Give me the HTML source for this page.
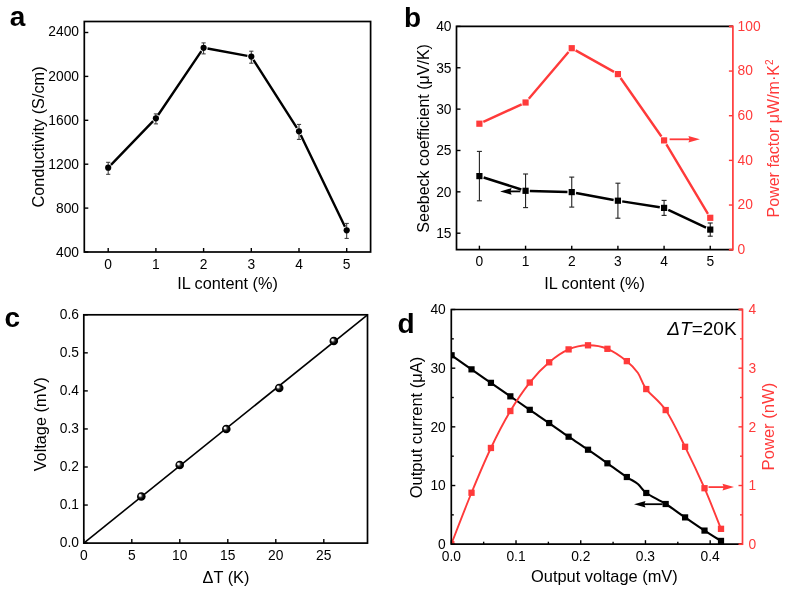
<!DOCTYPE html>
<html><head><meta charset="utf-8"><style>
html,body{margin:0;padding:0;background:#fff;overflow:hidden;width:787px;height:591px;}
svg{display:block;font-family:'Liberation Sans', sans-serif;will-change:transform;}
</style></head><body>
<svg width="787" height="591" viewBox="0 0 787 591">
<rect width="787" height="591" fill="#fff"/>
<line x1="108.20" y1="252.00" x2="108.20" y2="248.00" stroke="#000" stroke-width="1.4" />
<text x="108.20" y="268.80" font-size="13.8" text-anchor="middle" fill="#000" >0</text>
<line x1="155.90" y1="252.00" x2="155.90" y2="248.00" stroke="#000" stroke-width="1.4" />
<text x="155.90" y="268.80" font-size="13.8" text-anchor="middle" fill="#000" >1</text>
<line x1="203.60" y1="252.00" x2="203.60" y2="248.00" stroke="#000" stroke-width="1.4" />
<text x="203.60" y="268.80" font-size="13.8" text-anchor="middle" fill="#000" >2</text>
<line x1="251.30" y1="252.00" x2="251.30" y2="248.00" stroke="#000" stroke-width="1.4" />
<text x="251.30" y="268.80" font-size="13.8" text-anchor="middle" fill="#000" >3</text>
<line x1="299.00" y1="252.00" x2="299.00" y2="248.00" stroke="#000" stroke-width="1.4" />
<text x="299.00" y="268.80" font-size="13.8" text-anchor="middle" fill="#000" >4</text>
<line x1="346.70" y1="252.00" x2="346.70" y2="248.00" stroke="#000" stroke-width="1.4" />
<text x="346.70" y="268.80" font-size="13.8" text-anchor="middle" fill="#000" >5</text>
<line x1="84.30" y1="252.00" x2="88.30" y2="252.00" stroke="#000" stroke-width="1.4" />
<text x="79.00" y="256.70" font-size="13.8" text-anchor="end" fill="#000" >400</text>
<line x1="84.30" y1="208.10" x2="88.30" y2="208.10" stroke="#000" stroke-width="1.4" />
<text x="79.00" y="212.90" font-size="13.8" text-anchor="end" fill="#000" >800</text>
<line x1="84.30" y1="164.20" x2="88.30" y2="164.20" stroke="#000" stroke-width="1.4" />
<text x="79.00" y="169.20" font-size="13.8" text-anchor="end" fill="#000" >1200</text>
<line x1="84.30" y1="120.30" x2="88.30" y2="120.30" stroke="#000" stroke-width="1.4" />
<text x="79.00" y="125.00" font-size="13.8" text-anchor="end" fill="#000" >1600</text>
<line x1="84.30" y1="76.40" x2="88.30" y2="76.40" stroke="#000" stroke-width="1.4" />
<text x="79.00" y="81.20" font-size="13.8" text-anchor="end" fill="#000" >2000</text>
<line x1="84.30" y1="32.50" x2="88.30" y2="32.50" stroke="#000" stroke-width="1.4" />
<text x="79.00" y="36.10" font-size="13.8" text-anchor="end" fill="#000" >2400</text>
<path d="M110.98,164.82 L153.12,121.18 M158.14,114.99 L201.36,51.11 M207.53,48.53 L247.37,55.87 M253.45,59.97 L296.85,127.93 M300.74,134.90 L344.96,226.70" fill="none" stroke="#000" stroke-width="2.4" stroke-linecap="butt"/>
<line x1="108.20" y1="162.30" x2="108.20" y2="174.30" stroke="#333" stroke-width="1" />
<line x1="106.10" y1="162.30" x2="110.30" y2="162.30" stroke="#333" stroke-width="1" />
<line x1="106.10" y1="174.30" x2="110.30" y2="174.30" stroke="#333" stroke-width="1" />
<circle cx="108.20" cy="167.70" r="3.1" fill="#000"/>
<line x1="155.90" y1="113.90" x2="155.90" y2="123.90" stroke="#333" stroke-width="1" />
<line x1="153.80" y1="113.90" x2="158.00" y2="113.90" stroke="#333" stroke-width="1" />
<line x1="153.80" y1="123.90" x2="158.00" y2="123.90" stroke="#333" stroke-width="1" />
<circle cx="155.90" cy="118.30" r="3.1" fill="#000"/>
<line x1="203.60" y1="42.90" x2="203.60" y2="53.90" stroke="#333" stroke-width="1" />
<line x1="201.50" y1="42.90" x2="205.70" y2="42.90" stroke="#333" stroke-width="1" />
<line x1="201.50" y1="53.90" x2="205.70" y2="53.90" stroke="#333" stroke-width="1" />
<circle cx="203.60" cy="47.80" r="3.1" fill="#000"/>
<line x1="251.30" y1="51.20" x2="251.30" y2="63.20" stroke="#333" stroke-width="1" />
<line x1="249.20" y1="51.20" x2="253.40" y2="51.20" stroke="#333" stroke-width="1" />
<line x1="249.20" y1="63.20" x2="253.40" y2="63.20" stroke="#333" stroke-width="1" />
<circle cx="251.30" cy="56.60" r="3.1" fill="#000"/>
<line x1="299.00" y1="124.40" x2="299.00" y2="139.40" stroke="#333" stroke-width="1" />
<line x1="296.90" y1="124.40" x2="301.10" y2="124.40" stroke="#333" stroke-width="1" />
<line x1="296.90" y1="139.40" x2="301.10" y2="139.40" stroke="#333" stroke-width="1" />
<circle cx="299.00" cy="131.30" r="3.1" fill="#000"/>
<line x1="346.70" y1="223.40" x2="346.70" y2="238.40" stroke="#333" stroke-width="1" />
<line x1="344.60" y1="223.40" x2="348.80" y2="223.40" stroke="#333" stroke-width="1" />
<line x1="344.60" y1="238.40" x2="348.80" y2="238.40" stroke="#333" stroke-width="1" />
<circle cx="346.70" cy="230.30" r="3.1" fill="#000"/>
<rect x="84.3" y="21.5" width="286.30" height="230.50" fill="none" stroke="#000" stroke-width="1.7"/>
<text x="227.50" y="288.90" font-size="16.3" text-anchor="middle" fill="#000" >IL content (%)</text>
<text x="0" y="0" font-size="16.3" text-anchor="middle" fill="#000" transform="translate(44.20,137.00) rotate(-90)">Conductivity (S/cm)</text>
<text x="9.80" y="26.00" font-size="28" text-anchor="start" fill="#000" font-weight="bold">a</text>
<line x1="479.40" y1="249.70" x2="479.40" y2="245.70" stroke="#000" stroke-width="1.4" />
<text x="479.40" y="266.00" font-size="13.8" text-anchor="middle" fill="#000" >0</text>
<line x1="525.57" y1="249.70" x2="525.57" y2="245.70" stroke="#000" stroke-width="1.4" />
<text x="525.57" y="266.00" font-size="13.8" text-anchor="middle" fill="#000" >1</text>
<line x1="571.74" y1="249.70" x2="571.74" y2="245.70" stroke="#000" stroke-width="1.4" />
<text x="571.74" y="266.00" font-size="13.8" text-anchor="middle" fill="#000" >2</text>
<line x1="617.91" y1="249.70" x2="617.91" y2="245.70" stroke="#000" stroke-width="1.4" />
<text x="617.91" y="266.00" font-size="13.8" text-anchor="middle" fill="#000" >3</text>
<line x1="664.08" y1="249.70" x2="664.08" y2="245.70" stroke="#000" stroke-width="1.4" />
<text x="664.08" y="266.00" font-size="13.8" text-anchor="middle" fill="#000" >4</text>
<line x1="710.25" y1="249.70" x2="710.25" y2="245.70" stroke="#000" stroke-width="1.4" />
<text x="710.25" y="266.00" font-size="13.8" text-anchor="middle" fill="#000" >5</text>
<line x1="456.50" y1="233.20" x2="460.50" y2="233.20" stroke="#000" stroke-width="1.4" />
<text x="451.50" y="238.10" font-size="13.8" text-anchor="end" fill="#000" >15</text>
<line x1="456.50" y1="191.84" x2="460.50" y2="191.84" stroke="#000" stroke-width="1.4" />
<text x="451.50" y="196.74" font-size="13.8" text-anchor="end" fill="#000" >20</text>
<line x1="456.50" y1="150.48" x2="460.50" y2="150.48" stroke="#000" stroke-width="1.4" />
<text x="451.50" y="155.38" font-size="13.8" text-anchor="end" fill="#000" >25</text>
<line x1="456.50" y1="109.12" x2="460.50" y2="109.12" stroke="#000" stroke-width="1.4" />
<text x="451.50" y="114.02" font-size="13.8" text-anchor="end" fill="#000" >30</text>
<line x1="456.50" y1="67.76" x2="460.50" y2="67.76" stroke="#000" stroke-width="1.4" />
<text x="451.50" y="72.66" font-size="13.8" text-anchor="end" fill="#000" >35</text>
<line x1="456.50" y1="26.40" x2="460.50" y2="26.40" stroke="#000" stroke-width="1.4" />
<text x="451.50" y="31.30" font-size="13.8" text-anchor="end" fill="#000" >40</text>
<line x1="732.90" y1="249.70" x2="728.90" y2="249.70" stroke="#ff3a3a" stroke-width="1.4" />
<text x="737.60" y="254.10" font-size="13.8" text-anchor="start" fill="#ff3a3a" >0</text>
<line x1="732.90" y1="205.04" x2="728.90" y2="205.04" stroke="#ff3a3a" stroke-width="1.4" />
<text x="737.60" y="209.44" font-size="13.8" text-anchor="start" fill="#ff3a3a" >20</text>
<line x1="732.90" y1="160.38" x2="728.90" y2="160.38" stroke="#ff3a3a" stroke-width="1.4" />
<text x="737.60" y="164.78" font-size="13.8" text-anchor="start" fill="#ff3a3a" >40</text>
<line x1="732.90" y1="115.72" x2="728.90" y2="115.72" stroke="#ff3a3a" stroke-width="1.4" />
<text x="737.60" y="120.12" font-size="13.8" text-anchor="start" fill="#ff3a3a" >60</text>
<line x1="732.90" y1="71.06" x2="728.90" y2="71.06" stroke="#ff3a3a" stroke-width="1.4" />
<text x="737.60" y="75.46" font-size="13.8" text-anchor="start" fill="#ff3a3a" >80</text>
<line x1="732.90" y1="26.40" x2="728.90" y2="26.40" stroke="#ff3a3a" stroke-width="1.4" />
<text x="737.60" y="30.80" font-size="13.8" text-anchor="start" fill="#ff3a3a" >100</text>
<path d="M483.32,121.90 L521.65,104.30 M528.79,98.71 L568.52,51.99 M575.62,50.38 L614.03,71.92 M620.58,77.94 L661.41,136.56 M666.39,144.27 L707.94,213.93" fill="none" stroke="#ff3a3a" stroke-width="2.4" stroke-linecap="butt"/>
<rect x="476.30" y="120.60" width="6.2" height="6.2" fill="#ff3a3a"/>
<rect x="522.47" y="99.40" width="6.2" height="6.2" fill="#ff3a3a"/>
<rect x="568.64" y="45.10" width="6.2" height="6.2" fill="#ff3a3a"/>
<rect x="614.81" y="71.00" width="6.2" height="6.2" fill="#ff3a3a"/>
<rect x="660.98" y="137.30" width="6.2" height="6.2" fill="#ff3a3a"/>
<rect x="707.15" y="214.70" width="6.2" height="6.2" fill="#ff3a3a"/>
<path d="M483.64,177.45 L521.33,189.45 M529.87,190.92 L567.44,191.98 M576.02,192.90 L613.63,199.90 M622.20,201.37 L659.79,207.23 M668.27,209.87 L706.06,227.63" fill="none" stroke="#000" stroke-width="2.5" stroke-linecap="butt"/>
<line x1="479.40" y1="151.40" x2="479.40" y2="200.80" stroke="#222" stroke-width="1.1" />
<line x1="476.90" y1="151.40" x2="481.90" y2="151.40" stroke="#222" stroke-width="1.1" />
<line x1="476.90" y1="200.80" x2="481.90" y2="200.80" stroke="#222" stroke-width="1.1" />
<rect x="476.30" y="173.00" width="6.2" height="6.2" fill="#000"/>
<line x1="525.57" y1="174.00" x2="525.57" y2="207.60" stroke="#222" stroke-width="1.1" />
<line x1="523.07" y1="174.00" x2="528.07" y2="174.00" stroke="#222" stroke-width="1.1" />
<line x1="523.07" y1="207.60" x2="528.07" y2="207.60" stroke="#222" stroke-width="1.1" />
<rect x="522.47" y="187.70" width="6.2" height="6.2" fill="#000"/>
<line x1="571.74" y1="177.10" x2="571.74" y2="207.10" stroke="#222" stroke-width="1.1" />
<line x1="569.24" y1="177.10" x2="574.24" y2="177.10" stroke="#222" stroke-width="1.1" />
<line x1="569.24" y1="207.10" x2="574.24" y2="207.10" stroke="#222" stroke-width="1.1" />
<rect x="568.64" y="189.00" width="6.2" height="6.2" fill="#000"/>
<line x1="617.91" y1="183.20" x2="617.91" y2="218.20" stroke="#222" stroke-width="1.1" />
<line x1="615.41" y1="183.20" x2="620.41" y2="183.20" stroke="#222" stroke-width="1.1" />
<line x1="615.41" y1="218.20" x2="620.41" y2="218.20" stroke="#222" stroke-width="1.1" />
<rect x="614.81" y="197.60" width="6.2" height="6.2" fill="#000"/>
<line x1="664.08" y1="200.40" x2="664.08" y2="215.40" stroke="#222" stroke-width="1.1" />
<line x1="661.58" y1="200.40" x2="666.58" y2="200.40" stroke="#222" stroke-width="1.1" />
<line x1="661.58" y1="215.40" x2="666.58" y2="215.40" stroke="#222" stroke-width="1.1" />
<rect x="660.98" y="204.80" width="6.2" height="6.2" fill="#000"/>
<line x1="710.25" y1="223.00" x2="710.25" y2="236.20" stroke="#222" stroke-width="1.1" />
<line x1="707.75" y1="223.00" x2="712.75" y2="223.00" stroke="#222" stroke-width="1.1" />
<line x1="707.75" y1="236.20" x2="712.75" y2="236.20" stroke="#222" stroke-width="1.1" />
<rect x="707.15" y="226.50" width="6.2" height="6.2" fill="#000"/>
<line x1="509.60" y1="191.40" x2="520.40" y2="191.40" stroke="#000" stroke-width="1.8" />
<polygon points="500.10,191.40 511.60,188.10 510.40,191.40 511.60,194.70" fill="#000"/>
<line x1="669.60" y1="139.30" x2="690.40" y2="139.30" stroke="#ff3a3a" stroke-width="1.8" />
<polygon points="699.90,139.30 688.40,136.00 689.60,139.30 688.40,142.60" fill="#ff3a3a"/>
<path d="M732.9,26.4 H456.5 V249.7 H732.9" fill="none" stroke="#000" stroke-width="1.7"/>
<line x1="732.90" y1="25.55" x2="732.90" y2="250.55" stroke="#ff3a3a" stroke-width="1.7" />
<line x1="728.90" y1="26.40" x2="732.90" y2="26.40" stroke="#ff3a3a" stroke-width="1.7" />
<line x1="728.90" y1="249.70" x2="732.90" y2="249.70" stroke="#ff3a3a" stroke-width="1.7" />
<text x="594.50" y="288.90" font-size="16.3" text-anchor="middle" fill="#000" >IL content (%)</text>
<text x="0" y="0" font-size="16.0" text-anchor="middle" fill="#000" transform="translate(429.20,138.40) rotate(-90)">Seebeck coefficient (μV/K)</text>
<text x="0" y="0" font-size="16" text-anchor="start" fill="#ff3a3a" transform="translate(779.3,217.4) rotate(-90)">Power factor μW/m·K<tspan dy="-6.2" font-size="10">2</tspan></text>
<text x="404.00" y="26.60" font-size="28" text-anchor="start" fill="#000" font-weight="bold">b</text>
<line x1="83.80" y1="543.10" x2="83.80" y2="539.10" stroke="#000" stroke-width="1.4" />
<text x="83.80" y="559.50" font-size="13.8" text-anchor="middle" fill="#000" >0</text>
<line x1="131.80" y1="543.10" x2="131.80" y2="539.10" stroke="#000" stroke-width="1.4" />
<text x="131.80" y="559.50" font-size="13.8" text-anchor="middle" fill="#000" >5</text>
<line x1="179.80" y1="543.10" x2="179.80" y2="539.10" stroke="#000" stroke-width="1.4" />
<text x="179.80" y="559.50" font-size="13.8" text-anchor="middle" fill="#000" >10</text>
<line x1="227.80" y1="543.10" x2="227.80" y2="539.10" stroke="#000" stroke-width="1.4" />
<text x="227.80" y="559.50" font-size="13.8" text-anchor="middle" fill="#000" >15</text>
<line x1="275.80" y1="543.10" x2="275.80" y2="539.10" stroke="#000" stroke-width="1.4" />
<text x="275.80" y="559.50" font-size="13.8" text-anchor="middle" fill="#000" >20</text>
<line x1="323.80" y1="543.10" x2="323.80" y2="539.10" stroke="#000" stroke-width="1.4" />
<text x="323.80" y="559.50" font-size="13.8" text-anchor="middle" fill="#000" >25</text>
<line x1="83.80" y1="543.10" x2="87.80" y2="543.10" stroke="#000" stroke-width="1.4" />
<text x="79.00" y="547.20" font-size="13.8" text-anchor="end" fill="#000" >0.0</text>
<line x1="83.80" y1="505.05" x2="87.80" y2="505.05" stroke="#000" stroke-width="1.4" />
<text x="79.00" y="509.15" font-size="13.8" text-anchor="end" fill="#000" >0.1</text>
<line x1="83.80" y1="467.00" x2="87.80" y2="467.00" stroke="#000" stroke-width="1.4" />
<text x="79.00" y="471.10" font-size="13.8" text-anchor="end" fill="#000" >0.2</text>
<line x1="83.80" y1="428.95" x2="87.80" y2="428.95" stroke="#000" stroke-width="1.4" />
<text x="79.00" y="433.05" font-size="13.8" text-anchor="end" fill="#000" >0.3</text>
<line x1="83.80" y1="390.90" x2="87.80" y2="390.90" stroke="#000" stroke-width="1.4" />
<text x="79.00" y="395.00" font-size="13.8" text-anchor="end" fill="#000" >0.4</text>
<line x1="83.80" y1="352.85" x2="87.80" y2="352.85" stroke="#000" stroke-width="1.4" />
<text x="79.00" y="356.95" font-size="13.8" text-anchor="end" fill="#000" >0.5</text>
<line x1="83.80" y1="314.80" x2="87.80" y2="314.80" stroke="#000" stroke-width="1.4" />
<text x="79.00" y="318.90" font-size="13.8" text-anchor="end" fill="#000" >0.6</text>
<line x1="83.80" y1="543.10" x2="367.50" y2="314.80" stroke="#000" stroke-width="1.6" />
<defs><radialGradient id="ball" cx="0.5" cy="0.5" r="0.5" fx="0.31" fy="0.33"><stop offset="0" stop-color="#fff"/><stop offset="0.2" stop-color="#eee"/><stop offset="0.45" stop-color="#333"/><stop offset="0.7" stop-color="#000"/><stop offset="1" stop-color="#000"/></radialGradient></defs>
<circle cx="141.3" cy="496.5" r="4.3" fill="url(#ball)"/>
<circle cx="179.7" cy="465" r="4.3" fill="url(#ball)"/>
<circle cx="226.3" cy="429" r="4.3" fill="url(#ball)"/>
<circle cx="279.2" cy="388" r="4.3" fill="url(#ball)"/>
<circle cx="333.8" cy="341" r="4.3" fill="url(#ball)"/>
<rect x="83.8" y="314.8" width="283.70" height="228.30" fill="none" stroke="#000" stroke-width="1.7"/>
<text x="226.00" y="582.70" font-size="16.3" text-anchor="middle" fill="#000" >ΔT (K)</text>
<text x="0" y="0" font-size="16.3" text-anchor="middle" fill="#000" transform="translate(46.00,424.30) rotate(-90)">Voltage (mV)</text>
<text x="4.50" y="326.50" font-size="28" text-anchor="start" fill="#000" font-weight="bold">c</text>
<line x1="451.30" y1="544.20" x2="451.30" y2="540.20" stroke="#000" stroke-width="1.4" />
<text x="451.30" y="560.50" font-size="13.8" text-anchor="middle" fill="#000" >0.0</text>
<line x1="483.66" y1="544.20" x2="483.66" y2="541.70" stroke="#000" stroke-width="1.4" />
<line x1="516.02" y1="544.20" x2="516.02" y2="540.20" stroke="#000" stroke-width="1.4" />
<text x="516.02" y="560.50" font-size="13.8" text-anchor="middle" fill="#000" >0.1</text>
<line x1="548.38" y1="544.20" x2="548.38" y2="541.70" stroke="#000" stroke-width="1.4" />
<line x1="580.74" y1="544.20" x2="580.74" y2="540.20" stroke="#000" stroke-width="1.4" />
<text x="580.74" y="560.50" font-size="13.8" text-anchor="middle" fill="#000" >0.2</text>
<line x1="613.10" y1="544.20" x2="613.10" y2="541.70" stroke="#000" stroke-width="1.4" />
<line x1="645.46" y1="544.20" x2="645.46" y2="540.20" stroke="#000" stroke-width="1.4" />
<text x="645.46" y="560.50" font-size="13.8" text-anchor="middle" fill="#000" >0.3</text>
<line x1="677.82" y1="544.20" x2="677.82" y2="541.70" stroke="#000" stroke-width="1.4" />
<line x1="710.18" y1="544.20" x2="710.18" y2="540.20" stroke="#000" stroke-width="1.4" />
<text x="710.18" y="560.50" font-size="13.8" text-anchor="middle" fill="#000" >0.4</text>
<line x1="451.30" y1="544.20" x2="455.30" y2="544.20" stroke="#000" stroke-width="1.4" />
<text x="445.80" y="549.10" font-size="13.8" text-anchor="end" fill="#000" >0</text>
<line x1="451.30" y1="514.86" x2="453.80" y2="514.86" stroke="#000" stroke-width="1.4" />
<line x1="451.30" y1="485.53" x2="455.30" y2="485.53" stroke="#000" stroke-width="1.4" />
<text x="445.80" y="490.43" font-size="13.8" text-anchor="end" fill="#000" >10</text>
<line x1="451.30" y1="456.19" x2="453.80" y2="456.19" stroke="#000" stroke-width="1.4" />
<line x1="451.30" y1="426.85" x2="455.30" y2="426.85" stroke="#000" stroke-width="1.4" />
<text x="445.80" y="431.75" font-size="13.8" text-anchor="end" fill="#000" >20</text>
<line x1="451.30" y1="397.51" x2="453.80" y2="397.51" stroke="#000" stroke-width="1.4" />
<line x1="451.30" y1="368.18" x2="455.30" y2="368.18" stroke="#000" stroke-width="1.4" />
<text x="445.80" y="373.07" font-size="13.8" text-anchor="end" fill="#000" >30</text>
<line x1="451.30" y1="338.84" x2="453.80" y2="338.84" stroke="#000" stroke-width="1.4" />
<line x1="451.30" y1="309.50" x2="455.30" y2="309.50" stroke="#000" stroke-width="1.4" />
<text x="445.80" y="314.40" font-size="13.8" text-anchor="end" fill="#000" >40</text>
<line x1="742.50" y1="544.20" x2="738.50" y2="544.20" stroke="#ff3a3a" stroke-width="1.4" />
<text x="748.50" y="549.10" font-size="13.8" text-anchor="start" fill="#ff3a3a" >0</text>
<line x1="742.50" y1="514.86" x2="740.00" y2="514.86" stroke="#ff3a3a" stroke-width="1.4" />
<line x1="742.50" y1="485.53" x2="738.50" y2="485.53" stroke="#ff3a3a" stroke-width="1.4" />
<text x="748.50" y="490.43" font-size="13.8" text-anchor="start" fill="#ff3a3a" >1</text>
<line x1="742.50" y1="456.19" x2="740.00" y2="456.19" stroke="#ff3a3a" stroke-width="1.4" />
<line x1="742.50" y1="426.85" x2="738.50" y2="426.85" stroke="#ff3a3a" stroke-width="1.4" />
<text x="748.50" y="431.75" font-size="13.8" text-anchor="start" fill="#ff3a3a" >2</text>
<line x1="742.50" y1="397.51" x2="740.00" y2="397.51" stroke="#ff3a3a" stroke-width="1.4" />
<line x1="742.50" y1="368.18" x2="738.50" y2="368.18" stroke="#ff3a3a" stroke-width="1.4" />
<text x="748.50" y="373.07" font-size="13.8" text-anchor="start" fill="#ff3a3a" >3</text>
<line x1="742.50" y1="338.84" x2="740.00" y2="338.84" stroke="#ff3a3a" stroke-width="1.4" />
<line x1="742.50" y1="309.50" x2="738.50" y2="309.50" stroke="#ff3a3a" stroke-width="1.4" />
<text x="748.50" y="314.40" font-size="13.8" text-anchor="start" fill="#ff3a3a" >4</text>
<clipPath id="clipd"><rect x="451.3" y="309.5" width="291.20" height="234.70"/></clipPath><g clip-path="url(#clipd)">
<path d="M451.60,355.27 C454.92,357.61 464.96,364.75 471.52,369.35 C478.07,373.94 484.46,378.35 490.93,382.84 C497.40,387.34 503.88,391.84 510.35,396.34 C516.82,400.84 523.29,405.38 529.76,409.83 C536.24,414.28 542.71,418.56 549.18,423.04 C555.65,427.51 562.12,432.26 568.60,436.71 C575.07,441.16 581.54,445.30 588.01,449.73 C594.48,454.16 600.96,458.74 607.43,463.29 C613.90,467.83 621.77,473.56 626.84,477.02 C631.92,480.47 634.66,481.34 637.90,484.00 C641.14,486.66 641.63,489.64 646.26,492.98 C650.89,496.31 659.20,499.94 665.68,504.01 C672.15,508.08 678.62,512.96 685.09,517.39 C691.56,521.82 698.52,526.67 704.51,530.59 C710.49,534.51 718.26,539.19 721.01,540.91" fill="none" stroke="#000" stroke-width="2.1"/>
<rect x="448.50" y="352.17" width="6.2" height="6.2" fill="#000"/>
<rect x="468.42" y="366.25" width="6.2" height="6.2" fill="#000"/>
<rect x="487.83" y="379.74" width="6.2" height="6.2" fill="#000"/>
<rect x="507.25" y="393.24" width="6.2" height="6.2" fill="#000"/>
<rect x="526.66" y="406.73" width="6.2" height="6.2" fill="#000"/>
<rect x="546.08" y="419.94" width="6.2" height="6.2" fill="#000"/>
<rect x="565.50" y="433.61" width="6.2" height="6.2" fill="#000"/>
<rect x="584.91" y="446.63" width="6.2" height="6.2" fill="#000"/>
<rect x="604.33" y="460.19" width="6.2" height="6.2" fill="#000"/>
<rect x="623.74" y="473.92" width="6.2" height="6.2" fill="#000"/>
<rect x="643.16" y="489.88" width="6.2" height="6.2" fill="#000"/>
<rect x="662.58" y="500.91" width="6.2" height="6.2" fill="#000"/>
<rect x="681.99" y="514.29" width="6.2" height="6.2" fill="#000"/>
<rect x="701.41" y="527.49" width="6.2" height="6.2" fill="#000"/>
<rect x="717.91" y="537.81" width="6.2" height="6.2" fill="#000"/>
<path d="M451.30,544.20 C454.67,535.62 464.91,508.78 471.52,492.74 C478.12,476.70 484.46,461.60 490.93,447.97 C497.40,434.35 503.88,421.91 510.35,411.01 C516.82,400.10 523.29,390.67 529.76,382.55 C536.24,374.43 542.71,367.83 549.18,362.31 C555.65,356.78 562.12,352.23 568.60,349.40 C575.07,346.56 581.54,345.39 588.01,345.29 C594.48,345.19 600.96,346.17 607.43,348.81 C613.90,351.45 621.78,357.14 626.84,361.13 C631.91,365.13 634.56,368.15 637.80,372.80 C641.04,377.45 641.61,382.85 646.26,389.06 C650.91,395.27 659.20,400.45 665.68,410.07 C672.15,419.69 678.62,433.77 685.09,446.80 C691.56,459.83 698.52,474.55 704.51,488.22 C710.49,501.90 718.26,522.06 721.01,528.83" fill="none" stroke="#ff3a3a" stroke-width="1.9"/>
<rect x="448.15" y="541.05" width="6.3" height="6.3" fill="#ff3a3a"/>
<rect x="468.37" y="489.59" width="6.3" height="6.3" fill="#ff3a3a"/>
<rect x="487.78" y="444.82" width="6.3" height="6.3" fill="#ff3a3a"/>
<rect x="507.20" y="407.86" width="6.3" height="6.3" fill="#ff3a3a"/>
<rect x="526.61" y="379.40" width="6.3" height="6.3" fill="#ff3a3a"/>
<rect x="546.03" y="359.16" width="6.3" height="6.3" fill="#ff3a3a"/>
<rect x="565.45" y="346.25" width="6.3" height="6.3" fill="#ff3a3a"/>
<rect x="584.86" y="342.14" width="6.3" height="6.3" fill="#ff3a3a"/>
<rect x="604.28" y="345.66" width="6.3" height="6.3" fill="#ff3a3a"/>
<rect x="623.69" y="357.98" width="6.3" height="6.3" fill="#ff3a3a"/>
<rect x="643.11" y="385.91" width="6.3" height="6.3" fill="#ff3a3a"/>
<rect x="662.53" y="406.92" width="6.3" height="6.3" fill="#ff3a3a"/>
<rect x="681.94" y="443.65" width="6.3" height="6.3" fill="#ff3a3a"/>
<rect x="701.36" y="485.07" width="6.3" height="6.3" fill="#ff3a3a"/>
<rect x="717.86" y="525.68" width="6.3" height="6.3" fill="#ff3a3a"/>
</g>
<line x1="643.50" y1="504.20" x2="662.60" y2="504.20" stroke="#000" stroke-width="1.8" />
<polygon points="634.00,504.20 645.50,500.90 644.30,504.20 645.50,507.50" fill="#000"/>
<line x1="708.50" y1="487.10" x2="724.50" y2="487.10" stroke="#ff3a3a" stroke-width="1.8" />
<polygon points="734.00,487.10 722.50,483.80 723.70,487.10 722.50,490.40" fill="#ff3a3a"/>
<path d="M742.5,309.5 H451.3 V544.2 H742.5" fill="none" stroke="#000" stroke-width="1.7"/>
<line x1="742.50" y1="308.65" x2="742.50" y2="545.05" stroke="#ff3a3a" stroke-width="1.7" />
<line x1="738.50" y1="309.50" x2="742.50" y2="309.50" stroke="#ff3a3a" stroke-width="1.7" />
<line x1="738.50" y1="544.20" x2="742.50" y2="544.20" stroke="#ff3a3a" stroke-width="1.7" />
<text x="604.40" y="582.30" font-size="16.4" text-anchor="middle" fill="#000" >Output voltage (mV)</text>
<text x="0" y="0" font-size="16.5" text-anchor="middle" fill="#000" transform="translate(421.50,427.50) rotate(-90)">Output current (μA)</text>
<text x="0" y="0" font-size="16.6" text-anchor="middle" fill="#ff3a3a" transform="translate(773.80,426.60) rotate(-90)">Power (nW)</text>
<text x="736.6" y="335" font-size="19" text-anchor="end"><tspan font-style="italic">ΔT</tspan>=20K</text>
<text x="397.50" y="333.40" font-size="28" text-anchor="start" fill="#000" font-weight="bold">d</text>
</svg></body></html>
